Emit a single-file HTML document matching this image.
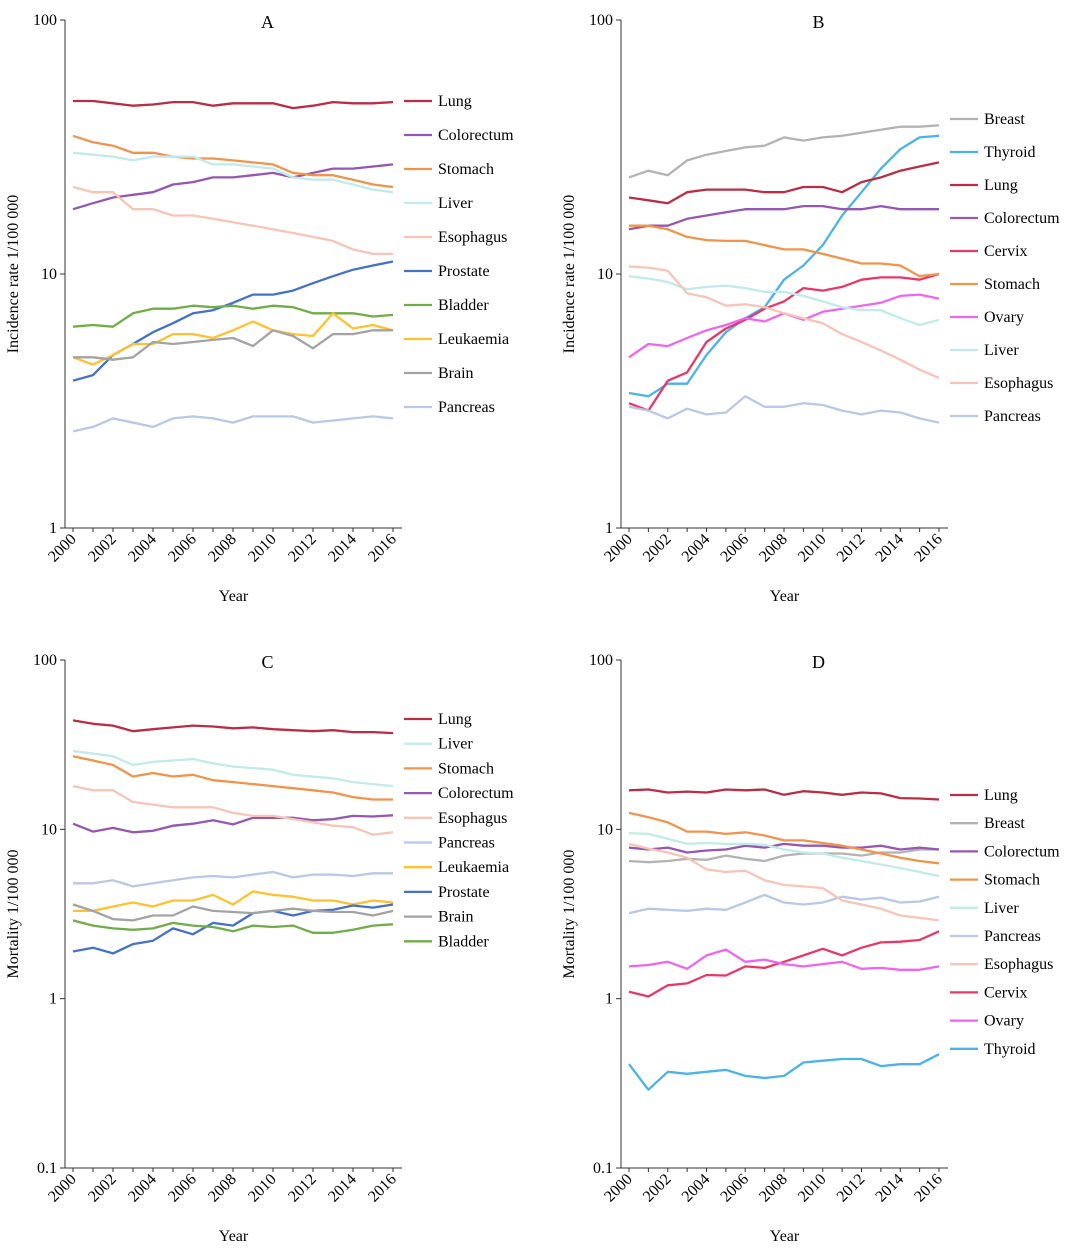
<!DOCTYPE html>
<html><head><meta charset="utf-8">
<style>
body{margin:0;background:#fff;}
svg{display:block;font-family:"Liberation Serif",serif;}
</style></head>
<body>
<svg id="chart" width="1080" height="1257" viewBox="0 0 1080 1257" xmlns="http://www.w3.org/2000/svg"></svg>
<script>
const years=[2000,2001,2002,2003,2004,2005,2006,2007,2008,2009,2010,2011,2012,2013,2014,2015,2016];
const yearTicks=[2000,2002,2004,2006,2008,2010,2012,2014,2016];
const colors={Lung:"#B92D45",Colorectum:"#9457B2",Stomach:"#F0944B",Liver:"#C2EAEA",Esophagus:"#F7C4B8",Prostate:"#4472C4",Bladder:"#71AD47",Leukaemia:"#FFC22E",Brain:"#A3A3A3",Pancreas:"#B8C8E6",Breast:"#B3B3B3",Thyroid:"#4BB3E8",Cervix:"#E8386A",Ovary:"#EE66EE"};

const namesA=["Lung","Colorectum","Stomach","Liver","Esophagus","Prostate","Bladder","Leukaemia","Brain","Pancreas"];
const lungA=[48,48,47,46,46.5,47.5,47.5,46,47,47,47,45,46,47.5,47,47,47.5];
const colorectumA=[18,19,20,20.5,21,22.5,23,24,24,24.5,25,24,25,26,26,26.5,27];
const stomachA=[35,33,32,30,30,29,28.5,28.5,28,27.5,27,25,24.5,24.5,23.5,22.5,22];
const liverA=[30,29.5,29,28,29,29,29,27,27,26.5,26,24,23.5,23.5,22.5,21.5,21];
const esophagusA=[22,21,21,18,18,17,17,16.5,16,15.5,15,14.5,14,13.5,12.5,12,12];
const prostateA=[3.8,4,4.8,5.3,5.9,6.4,7,7.2,7.7,8.3,8.3,8.6,9.2,9.8,10.4,10.8,11.2];
const bladderA=[6.2,6.3,6.2,7,7.3,7.3,7.5,7.4,7.5,7.3,7.5,7.4,7,7,7,6.8,6.9];
const leukaemiaA=[4.7,4.4,4.8,5.3,5.3,5.8,5.8,5.6,6,6.5,6,5.8,5.7,7,6.1,6.3,6];
const brainA=[4.7,4.7,4.6,4.7,5.4,5.3,5.4,5.5,5.6,5.2,6,5.7,5.1,5.8,5.8,6,6];
const pancreasA=[2.4,2.5,2.7,2.6,2.5,2.7,2.75,2.7,2.6,2.75,2.75,2.75,2.6,2.65,2.7,2.75,2.7];

const namesB=["Breast","Thyroid","Lung","Colorectum","Cervix","Stomach","Ovary","Liver","Esophagus","Pancreas"];
const breastB=[24,25.5,24.5,28,29.5,30.5,31.5,32,34.5,33.5,34.5,35,36,37,38,38,38.5];
const thyroidB=[3.4,3.3,3.7,3.7,4.8,5.9,6.7,7.4,9.5,10.8,13,17,21,26,31,34.5,35];
const lungB=[20,19.5,19,21,21.5,21.5,21.5,21,21,22,22,21,23,24,25.5,26.5,27.5];
const colorectumB=[15,15.5,15.5,16.5,17,17.5,18,18,18,18.5,18.5,18,18,18.5,18,18,18];
const cervixB=[3.1,2.9,3.8,4.1,5.4,6.1,6.6,7.3,7.8,8.8,8.6,8.9,9.5,9.7,9.7,9.5,10];
const stomachB=[15.5,15.5,15,14,13.6,13.5,13.5,13,12.5,12.5,12,11.5,11,11,10.8,9.8,10];
const ovaryB=[4.7,5.3,5.2,5.6,6,6.3,6.7,6.5,7,6.6,7.1,7.3,7.5,7.7,8.2,8.3,8];
const liverB=[9.8,9.6,9.3,8.7,8.9,9,8.8,8.5,8.5,8.2,7.8,7.4,7.2,7.2,6.7,6.3,6.6];
const esophagusB=[10.7,10.6,10.3,8.4,8.1,7.5,7.6,7.4,7,6.7,6.4,5.8,5.4,5,4.6,4.2,3.9];
const pancreasB=[3,2.9,2.7,2.95,2.8,2.85,3.3,3,3,3.1,3.05,2.9,2.8,2.9,2.85,2.7,2.6];

const namesC=["Lung","Liver","Stomach","Colorectum","Esophagus","Pancreas","Leukaemia","Prostate","Brain","Bladder"];
const lungC=[44,42,41,38,39,40,41,40.5,39.5,40,39,38.5,38,38.5,37.5,37.5,37];
const liverC=[29,28,27,24,25,25.5,26,24.5,23.5,23,22.5,21,20.5,20,19,18.5,18];
const stomachC=[27,25.5,24,20.5,21.5,20.5,21,19.5,19,18.5,18,17.5,17,16.5,15.5,15,15];
const colorectumC=[10.8,9.7,10.2,9.6,9.8,10.5,10.8,11.3,10.7,11.7,11.7,11.7,11.3,11.5,12,11.9,12.1];
const esophagusC=[18,17,17,14.5,14,13.5,13.5,13.5,12.5,12,12,11.5,11,10.5,10.3,9.3,9.6];
const pancreasC=[4.8,4.8,5,4.6,4.8,5,5.2,5.3,5.2,5.4,5.6,5.2,5.4,5.4,5.3,5.5,5.5];
const leukaemiaC=[3.3,3.3,3.5,3.7,3.5,3.8,3.8,4.1,3.6,4.3,4.1,4,3.8,3.8,3.6,3.8,3.7];
const prostateC=[1.9,2,1.85,2.1,2.2,2.6,2.4,2.8,2.7,3.2,3.3,3.1,3.3,3.35,3.55,3.45,3.6];
const brainC=[3.6,3.3,2.95,2.9,3.1,3.1,3.5,3.3,3.25,3.2,3.3,3.4,3.3,3.25,3.25,3.1,3.3];
const bladderC=[2.9,2.7,2.6,2.55,2.6,2.8,2.7,2.65,2.5,2.7,2.65,2.7,2.45,2.45,2.55,2.7,2.75];

const namesD=["Lung","Breast","Colorectum","Stomach","Liver","Pancreas","Esophagus","Cervix","Ovary","Thyroid"];
const lungD=[17,17.2,16.5,16.7,16.5,17.2,17,17.2,16,16.8,16.5,16,16.5,16.3,15.3,15.2,15];
const breastD=[6.5,6.4,6.5,6.7,6.6,7,6.7,6.5,7,7.2,7.2,7.2,7,7.3,7.3,7.6,7.6];
const colorectumD=[7.8,7.6,7.8,7.3,7.5,7.6,8,7.8,8.2,8,8,7.8,7.8,8,7.6,7.8,7.6];
const stomachD=[12.5,11.8,11,9.7,9.7,9.4,9.6,9.2,8.6,8.6,8.3,8,7.6,7.2,6.8,6.5,6.3];
const liverD=[9.5,9.4,8.8,8.2,8.3,8.2,8.2,8.1,7.6,7.3,7.2,6.8,6.5,6.2,5.9,5.6,5.3];
const pancreasD=[3.2,3.4,3.35,3.3,3.4,3.35,3.7,4.1,3.7,3.6,3.7,4,3.85,3.95,3.7,3.75,4];
const esophagusD=[8.2,7.7,7.3,6.8,5.8,5.6,5.7,5,4.7,4.6,4.5,3.8,3.6,3.4,3.1,3,2.9];
const cervixD=[1.1,1.03,1.2,1.23,1.38,1.37,1.55,1.52,1.65,1.8,1.97,1.8,2,2.15,2.17,2.22,2.5];
const ovaryD=[1.55,1.58,1.65,1.5,1.8,1.95,1.65,1.7,1.6,1.55,1.6,1.65,1.5,1.52,1.48,1.48,1.55];
const thyroidD=[0.41,0.29,0.37,0.36,0.37,0.38,0.35,0.34,0.35,0.42,0.43,0.44,0.44,0.4,0.41,0.41,0.47];

const svg=document.getElementById('chart');
const NS="http://www.w3.org/2000/svg";
function mk(tag,attrs,parent){const e=document.createElementNS(NS,tag);for(const k in attrs)e.setAttribute(k,attrs[k]);(parent||svg).appendChild(e);return e;}

const panels=[
 {id:"a",letter:"A",x0:65,x1:402,y0:20,y1:528,dmax:2,dmin:0,yTicks:["100","10","1"],ytitle:"Incidence rate 1/100 000",names:namesA,series:[lungA,colorectumA,stomachA,liverA,esophagusA,prostateA,bladderA,leukaemiaA,brainA,pancreasA],legX:404,legY:101,legStep:34},
 {id:"b",letter:"B",x0:621,x1:948,y0:20,y1:528,dmax:2,dmin:0,yTicks:["100","10","1"],ytitle:"Incidence rate 1/100 000",names:namesB,series:[breastB,thyroidB,lungB,colorectumB,cervixB,stomachB,ovaryB,liverB,esophagusB,pancreasB],legX:950,legY:119,legStep:33},
 {id:"c",letter:"C",x0:65,x1:402,y0:660,y1:1168,dmax:2,dmin:-1,yTicks:["100","10","1","0.1"],ytitle:"Mortality 1/100 000",names:namesC,series:[lungC,liverC,stomachC,colorectumC,esophagusC,pancreasC,leukaemiaC,prostateC,brainC,bladderC],legX:404,legY:719,legStep:24.7},
 {id:"d",letter:"D",x0:621,x1:948,y0:660,y1:1168,dmax:2,dmin:-1,yTicks:["100","10","1","0.1"],ytitle:"Mortality 1/100 000",names:namesD,series:[lungD,breastD,colorectumD,stomachD,liverD,pancreasD,esophagusD,cervixD,ovaryD,thyroidD],legX:950,legY:795,legStep:28.2}
];

panels.forEach(p=>{
  const g=mk('g',{});
  
  
  const xs=v=>p.x0+8+(v-2000)/16*(p.x1-p.x0-17);
  const ys=v=>p.y0+(p.dmax-Math.log10(v))/(p.dmax-p.dmin)*(p.y1-p.y0);
  const ax=mk('path',{d:`M${p.x0},${p.y0}V${p.y1}H${p.x1}`,fill:"none",stroke:"#333","stroke-width":1},g);
  
  
  p.yTicks.forEach(t=>{
    const y=ys(parseFloat(t));
    mk('line',{x1:p.x0-5,x2:p.x0,y1:y,y2:y,stroke:"#333"},g);
    const tx=mk('text',{x:p.x0-8,y:y+5,"text-anchor":"end","font-size":16},g);
    tx.textContent=t;
    
    
  });
  years.forEach(yr=>{const x=xs(yr);mk('line',{x1:x,x2:x,y1:p.y1,y2:p.y1+4,stroke:"#333"},g);});
  yearTicks.forEach(yr=>{
    const x=xs(yr);
    const tx=mk('text',{x:x+4,y:p.y1+12,"text-anchor":"end","font-size":16,transform:`rotate(-45 ${x+4} ${p.y1+12})`},g);
    tx.textContent=yr;
    
    
  });
  const xt=mk('text',{x:(p.x0+p.x1)/2,y:p.y1+73,"text-anchor":"middle","font-size":16},g);
  xt.textContent="Year";
  
  
  const cy=(p.y0+p.y1)/2;const cx=p.x0-47;
  const yt=mk('text',{x:cx,y:cy,"text-anchor":"middle","font-size":16,transform:`rotate(-90 ${cx} ${cy})`},g);
  yt.textContent=p.ytitle;
  
  
  const lt=mk('text',{x:(p.x0+p.x1)/2+34,y:p.y0+8,"text-anchor":"middle","font-size":18},g);
  lt.textContent=p.letter;
  
  
  p.series.forEach((vals,i)=>{
    const nm=p.names[i];const c=colors[nm];
    const d=vals.map((v,j)=>(j?'L':'M')+xs(years[j]).toFixed(1)+','+ys(v).toFixed(1)).join('');
    const ln=mk('path',{d:d,fill:"none",stroke:c,"stroke-width":2.3,"stroke-linejoin":"round"},g);
    
    
    const ly=p.legY+i*p.legStep;
    const lg=mk('g',{},g);
    
    
    mk('line',{x1:p.legX,x2:p.legX+28,y1:ly,y2:ly,stroke:c,"stroke-width":2.3},lg);
    const t=mk('text',{x:p.legX+34,y:ly+5,"font-size":16},lg);
    t.textContent=nm;
  });
});
</script>
</body></html>
